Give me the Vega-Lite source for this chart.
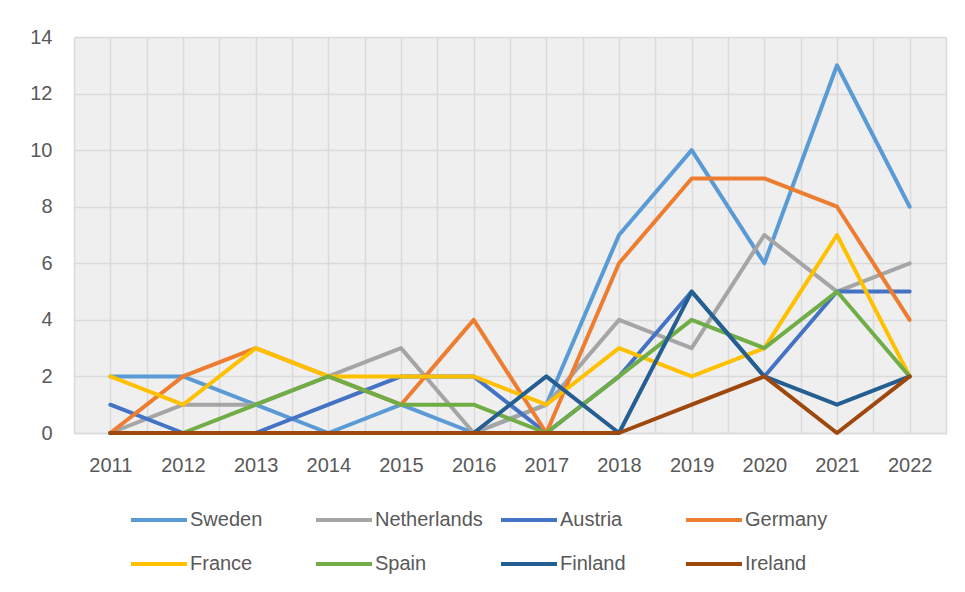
{
  "$schema": "https://vega.github.io/schema/vega-lite/v6.json",
  "width": 872,
  "height": 396,
  "autosize": {"type": "none"},
  "padding": {"left": 74, "top": 37, "right": 19, "bottom": 159},
  "background": "#ffffff",
  "config": {
    "font": "Liberation Sans",
    "view": {"fill": "#EFEFEF", "stroke": null}
  },
  "data": {
    "values": [
      {"country": "Sweden", "year": 2011, "count": 2},
      {"country": "Sweden", "year": 2012, "count": 2},
      {"country": "Sweden", "year": 2013, "count": 1},
      {"country": "Sweden", "year": 2014, "count": 0},
      {"country": "Sweden", "year": 2015, "count": 1},
      {"country": "Sweden", "year": 2016, "count": 0},
      {"country": "Sweden", "year": 2017, "count": 1},
      {"country": "Sweden", "year": 2018, "count": 7},
      {"country": "Sweden", "year": 2019, "count": 10},
      {"country": "Sweden", "year": 2020, "count": 6},
      {"country": "Sweden", "year": 2021, "count": 13},
      {"country": "Sweden", "year": 2022, "count": 8},
      {"country": "Netherlands", "year": 2011, "count": 0},
      {"country": "Netherlands", "year": 2012, "count": 1},
      {"country": "Netherlands", "year": 2013, "count": 1},
      {"country": "Netherlands", "year": 2014, "count": 2},
      {"country": "Netherlands", "year": 2015, "count": 3},
      {"country": "Netherlands", "year": 2016, "count": 0},
      {"country": "Netherlands", "year": 2017, "count": 1},
      {"country": "Netherlands", "year": 2018, "count": 4},
      {"country": "Netherlands", "year": 2019, "count": 3},
      {"country": "Netherlands", "year": 2020, "count": 7},
      {"country": "Netherlands", "year": 2021, "count": 5},
      {"country": "Netherlands", "year": 2022, "count": 6},
      {"country": "Austria", "year": 2011, "count": 1},
      {"country": "Austria", "year": 2012, "count": 0},
      {"country": "Austria", "year": 2013, "count": 0},
      {"country": "Austria", "year": 2014, "count": 1},
      {"country": "Austria", "year": 2015, "count": 2},
      {"country": "Austria", "year": 2016, "count": 2},
      {"country": "Austria", "year": 2017, "count": 0},
      {"country": "Austria", "year": 2018, "count": 2},
      {"country": "Austria", "year": 2019, "count": 5},
      {"country": "Austria", "year": 2020, "count": 2},
      {"country": "Austria", "year": 2021, "count": 5},
      {"country": "Austria", "year": 2022, "count": 5},
      {"country": "Germany", "year": 2011, "count": 0},
      {"country": "Germany", "year": 2012, "count": 2},
      {"country": "Germany", "year": 2013, "count": 3},
      {"country": "Germany", "year": 2014, "count": 2},
      {"country": "Germany", "year": 2015, "count": 1},
      {"country": "Germany", "year": 2016, "count": 4},
      {"country": "Germany", "year": 2017, "count": 0},
      {"country": "Germany", "year": 2018, "count": 6},
      {"country": "Germany", "year": 2019, "count": 9},
      {"country": "Germany", "year": 2020, "count": 9},
      {"country": "Germany", "year": 2021, "count": 8},
      {"country": "Germany", "year": 2022, "count": 4},
      {"country": "France", "year": 2011, "count": 2},
      {"country": "France", "year": 2012, "count": 1},
      {"country": "France", "year": 2013, "count": 3},
      {"country": "France", "year": 2014, "count": 2},
      {"country": "France", "year": 2015, "count": 2},
      {"country": "France", "year": 2016, "count": 2},
      {"country": "France", "year": 2017, "count": 1},
      {"country": "France", "year": 2018, "count": 3},
      {"country": "France", "year": 2019, "count": 2},
      {"country": "France", "year": 2020, "count": 3},
      {"country": "France", "year": 2021, "count": 7},
      {"country": "France", "year": 2022, "count": 2},
      {"country": "Spain", "year": 2011, "count": 0},
      {"country": "Spain", "year": 2012, "count": 0},
      {"country": "Spain", "year": 2013, "count": 1},
      {"country": "Spain", "year": 2014, "count": 2},
      {"country": "Spain", "year": 2015, "count": 1},
      {"country": "Spain", "year": 2016, "count": 1},
      {"country": "Spain", "year": 2017, "count": 0},
      {"country": "Spain", "year": 2018, "count": 2},
      {"country": "Spain", "year": 2019, "count": 4},
      {"country": "Spain", "year": 2020, "count": 3},
      {"country": "Spain", "year": 2021, "count": 5},
      {"country": "Spain", "year": 2022, "count": 2},
      {"country": "Finland", "year": 2011, "count": 0},
      {"country": "Finland", "year": 2012, "count": 0},
      {"country": "Finland", "year": 2013, "count": 0},
      {"country": "Finland", "year": 2014, "count": 0},
      {"country": "Finland", "year": 2015, "count": 0},
      {"country": "Finland", "year": 2016, "count": 0},
      {"country": "Finland", "year": 2017, "count": 2},
      {"country": "Finland", "year": 2018, "count": 0},
      {"country": "Finland", "year": 2019, "count": 5},
      {"country": "Finland", "year": 2020, "count": 2},
      {"country": "Finland", "year": 2021, "count": 1},
      {"country": "Finland", "year": 2022, "count": 2},
      {"country": "Ireland", "year": 2011, "count": 0},
      {"country": "Ireland", "year": 2012, "count": 0},
      {"country": "Ireland", "year": 2013, "count": 0},
      {"country": "Ireland", "year": 2014, "count": 0},
      {"country": "Ireland", "year": 2015, "count": 0},
      {"country": "Ireland", "year": 2016, "count": 0},
      {"country": "Ireland", "year": 2017, "count": 0},
      {"country": "Ireland", "year": 2018, "count": 0},
      {"country": "Ireland", "year": 2019, "count": 1},
      {"country": "Ireland", "year": 2020, "count": 2},
      {"country": "Ireland", "year": 2021, "count": 0},
      {"country": "Ireland", "year": 2022, "count": 2}
    ]
  },
  "mark": {"type": "line", "strokeWidth": 4, "strokeJoin": "round", "strokeCap": "round"},
  "encoding": {
    "x": {
      "field": "year",
      "type": "quantitative",
      "scale": {"domain": [2010.5, 2022.5], "nice": false, "zero": false},
      "axis": {
        "title": null,
        "values": [2010.5, 2011, 2011.5, 2012, 2012.5, 2013, 2013.5, 2014, 2014.5, 2015, 2015.5, 2016, 2016.5, 2017, 2017.5, 2018, 2018.5, 2019, 2019.5, 2020, 2020.5, 2021, 2021.5, 2022, 2022.5],
        "labelExpr": "datum.value % 1 === 0 ? format(datum.value, 'd') : ''",
        "ticks": false,
        "domain": true,
        "domainColor": "#D9D9D9",
        "domainWidth": 1.5,
        "grid": true,
        "gridColor": "#DADADA",
        "gridWidth": 1.5,
        "labelFontSize": 20,
        "labelColor": "#595959",
        "labelPadding": 22,
        "labelFlush": false,
        "labelOverlap": false
      }
    },
    "y": {
      "field": "count",
      "type": "quantitative",
      "scale": {"domain": [0, 14], "nice": false},
      "axis": {
        "title": null,
        "values": [0, 2, 4, 6, 8, 10, 12, 14],
        "ticks": false,
        "domain": false,
        "grid": true,
        "gridColor": "#DADADA",
        "gridWidth": 1.5,
        "labelFontSize": 20,
        "labelColor": "#595959",
        "labelPadding": 22
      }
    },
    "color": {
      "field": "country",
      "type": "nominal",
      "sort": null,
      "scale": {
        "domain": ["Sweden", "Netherlands", "Austria", "Germany", "France", "Spain", "Finland", "Ireland"],
        "range": ["#5B9BD5", "#A5A5A5", "#4472C4", "#ED7D31", "#FFC000", "#70AD47", "#255E91", "#9E480E"]
      },
      "legend": {
        "title": null,
        "orient": "none",
        "legendX": 55,
        "legendY": 453,
        "direction": "horizontal",
        "columns": 4,
        "gridAlign": "all",
        "symbolType": "stroke",
        "symbolSize": 3136,
        "symbolStrokeWidth": 4,
        "labelFontSize": 20,
        "labelColor": "#595959",
        "labelOffset": 1,
        "columnPadding": 10,
        "rowPadding": 4,
        "padding": 0,
        "labelLimit": 300
      }
    }
  }
}
